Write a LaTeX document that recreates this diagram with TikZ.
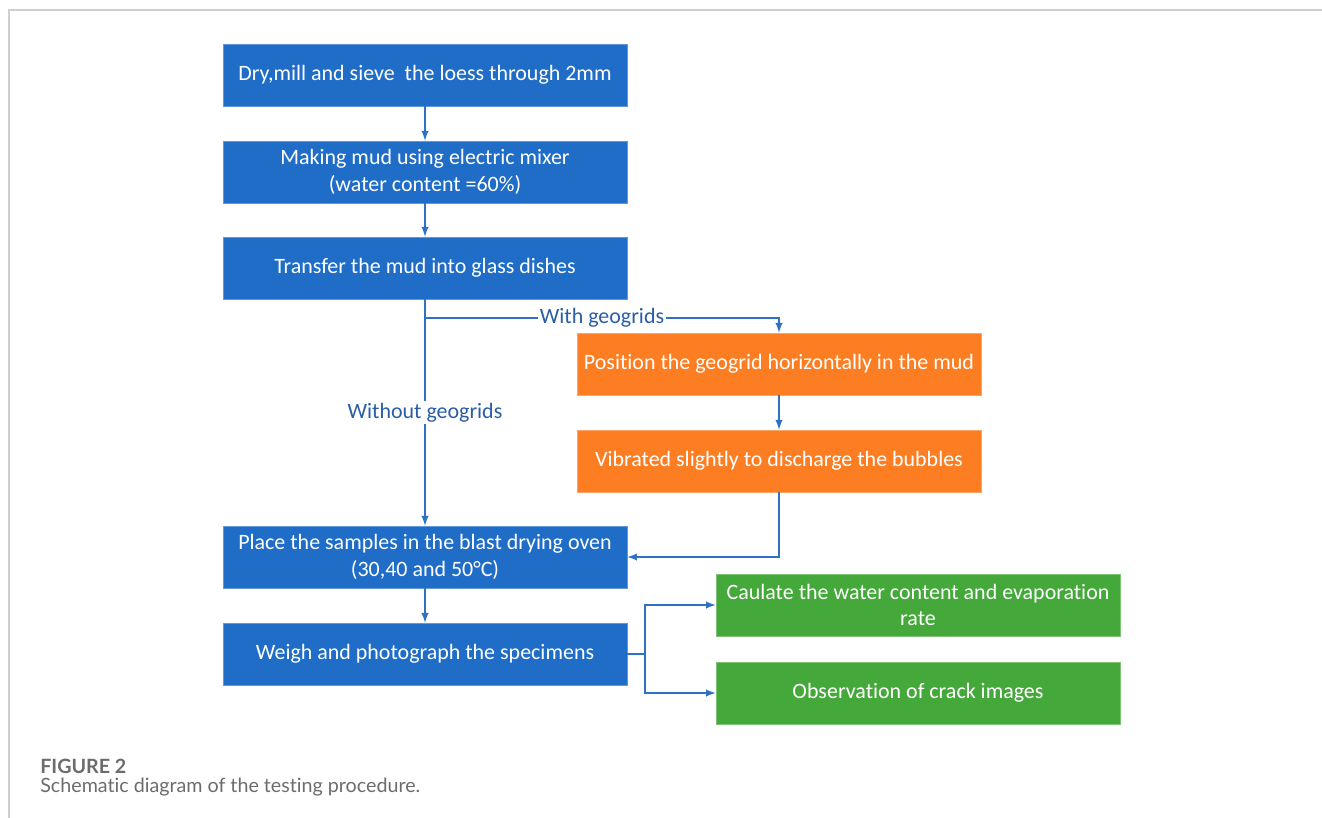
\documentclass[tikz,border=0pt]{standalone}
\usepackage{fontspec}
\setmainfont[Ligatures=NoCommon]{Carlito}
\newfontfamily\capfont[Ligatures=NoCommon]{Lato}
\usepackage{tikz}
\usetikzlibrary{arrows,calc}
\definecolor{boxblue}{HTML}{1F6DC6}
\definecolor{boxorange}{HTML}{FD7E22}
\definecolor{boxgreen}{HTML}{45A83A}
\definecolor{linkblue}{HTML}{2F72C4}
\definecolor{labelblue}{HTML}{2A5EA8}
\definecolor{framegray}{HTML}{CFCFCF}

\begin{document}
\begin{tikzpicture}[>=latex,x=0.02cm,y=-0.02cm,
		bluebox/.style={fill=boxblue,draw=boxblue!70!white,text=white,align=center,minimum width=8.08cm,minimum height=1.24cm,font=\fontsize{12.5}{15}\selectfont},
		orangebox/.style={bluebox,fill=boxorange,draw=boxorange!70!white},
		greenbox/.style={bluebox,fill=boxgreen,draw=boxgreen!70!white},
		link/.style={draw=linkblue,line width=0.9pt},
		linklabel/.style={fill=white,text=labelblue,inner sep=1pt,font=\fontsize{12.5}{15}\selectfont}]
		\useasboundingbox (0,0) rectangle (1322,818);
		\draw [framegray,line width=1pt] (9,818) -- (9,10) -- (1322,10);
		% main steps
		\node (dry)    [bluebox] at (425,75)  {Dry,mill and sieve\ \ the loess through 2mm};
		\node (mud)    [bluebox] at (425,172) {Making mud using electric mixer\\(water content =60\%)};
		\node (dish)   [bluebox] at (425,268) {Transfer the mud into glass dishes};
		\node (oven)   [bluebox] at (425,557) {Place the samples in the blast drying oven\\(30,40 and 50°C)};
		\node (weigh)  [bluebox] at (425,654) {Weigh and photograph the specimens};
		% geogrid branch
		\node (grid)   [orangebox] at (779,364) {Position the geogrid horizontally in the mud};
		\node (vib)    [orangebox] at (779,461) {Vibrated slightly to discharge the bubbles};
		% results
		\node (water)  [greenbox] at (918,605) {Caulate the water content and evaporation\\rate};
		\node (crack)  [greenbox] at (918,693) {Observation of crack images};
		\coordinate (split) at (425,318);
		\coordinate (fork)  at (645,654);
		\draw [->,link] (dry.south) -- (mud.north);
		\draw [->,link] (mud.south) -- (dish.north);
		\draw [->,link] (dish.south) -- (oven.north) node[linklabel, pos=0.5] {Without geogrids};
		\draw [->,link] (split) -- node[linklabel] {With geogrids} (split -| grid.north) -- (grid.north);
		\draw [->,link] (grid.south) -- (vib.north);
		\draw [->,link] (vib.south) |- (oven.east);
		\draw [->,link] (oven.south) -- (weigh.north);
		\draw [link] (weigh.east) -- (fork);
		\draw [->,link] (fork) |- (water.west);
		\draw [->,link] (fork) |- (crack.west);
		% caption
		\node (figno)   [anchor=west,text=gray!85!black,font=\capfont\bfseries\fontsize{11.2}{13}\selectfont,inner sep=0pt] at (40,766) {FIGURE 2};
		\node (figtext) [anchor=west,text=gray!85!black,font=\capfont\fontsize{11.2}{13}\selectfont,inner sep=0pt] at (40,787) {Schematic diagram of the testing procedure.};
	\end{tikzpicture}
\end{document}
